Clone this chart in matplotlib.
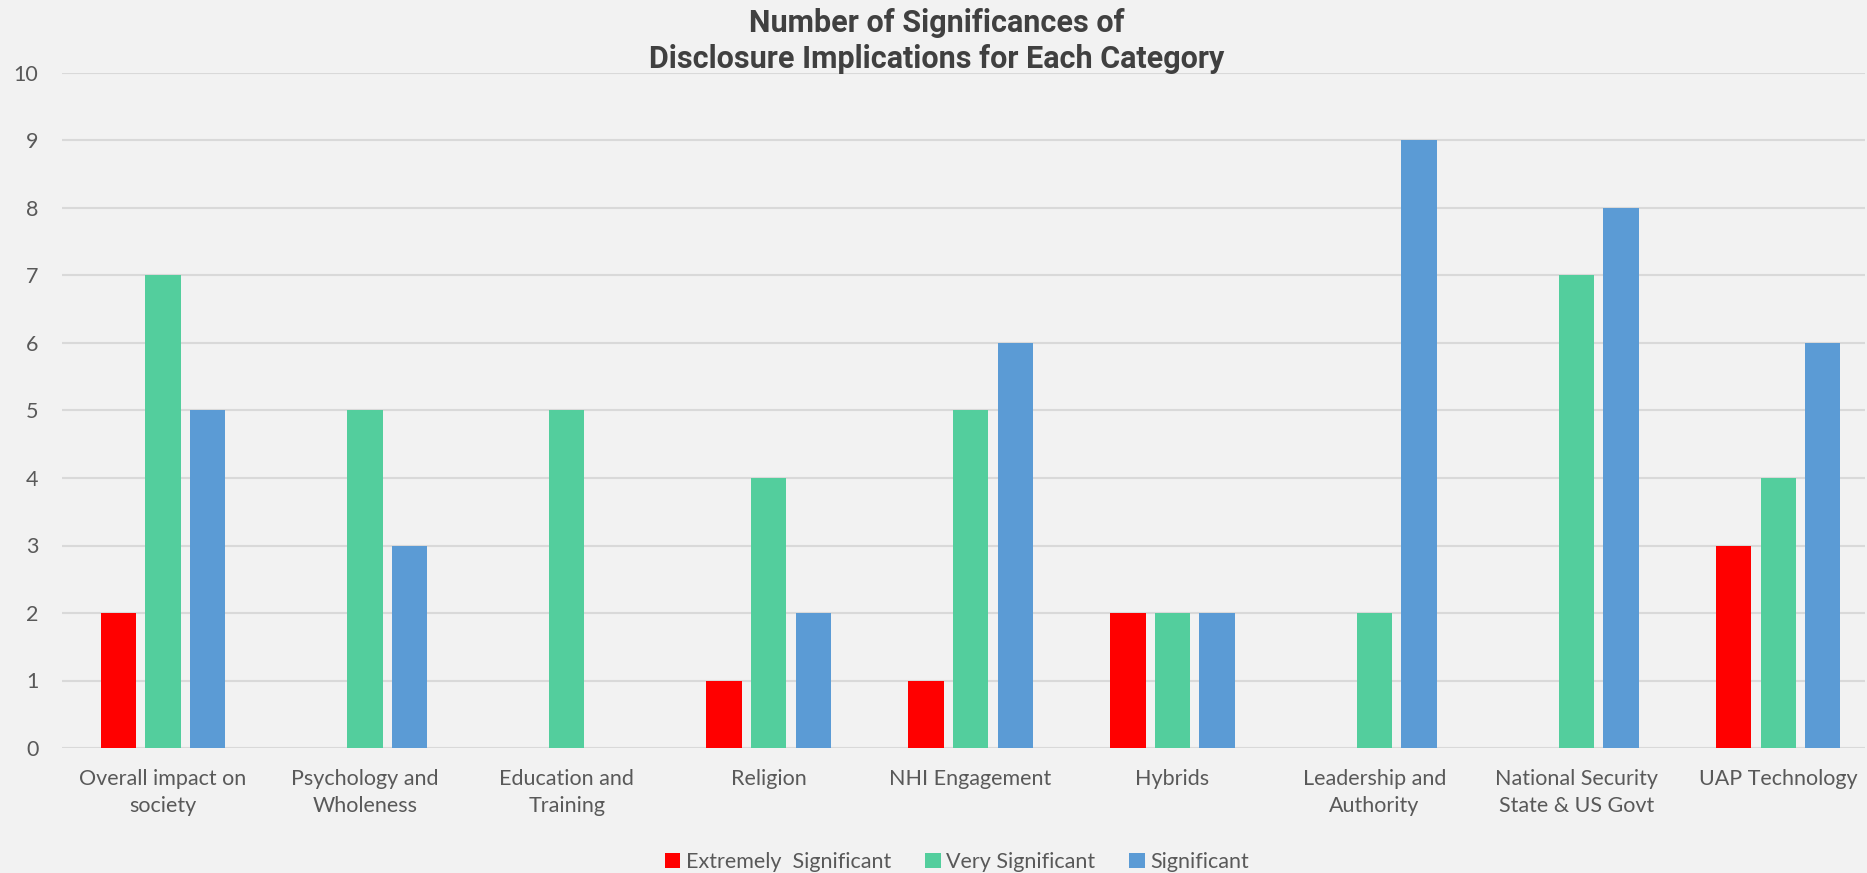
import matplotlib
matplotlib.use("Agg")
import matplotlib.pyplot as plt
import numpy as np

categories = ["Overall impact on\nsociety", "Psychology and\nWholeness", "Education and\nTraining",
              "Religion", "NHI Engagement", "Hybrids", "Leadership and\nAuthority",
              "National Security\nState & US Govt", "UAP Technology"]
extremely = [2, 0, 0, 1, 1, 2, 0, 0, 3]
very = [7, 5, 5, 4, 5, 2, 2, 7, 4]
significant = [5, 3, 0, 2, 6, 2, 9, 8, 6]
series_names = ["Extremely  Significant", "Very Significant", "Significant"]
colors = ["#FF0000", "#53CE9D", "#5B9BD5"]

plt.rcParams['font.family'] = ['Lato', 'DejaVu Sans']
bg = "#F2F2F2"
fig = plt.figure(figsize=(18.67, 8.73), dpi=100, facecolor=bg)
ax = fig.add_axes([62/1867, 1-748/873, (1865-62)/1867, (748-73)/873], facecolor=bg)

x = np.arange(len(categories))
w = 0.175
step = 0.221
for i, (vals, name, c) in enumerate(zip([extremely, very, significant], series_names, colors)):
    ax.bar(x + (i-1)*step, vals, width=w, color=c, label=name, zorder=3)

ax.set_xlim(-0.5, 8.43)
ax.set_ylim(0, 10)
ax.set_yticks(range(0, 11))
ax.grid(axis='y', color='#D9D9D9', linewidth=1.5, zorder=0)
for s in ax.spines.values():
    s.set_visible(False)
ax.tick_params(length=0, colors='#595959', labelsize=15.5)
ax.tick_params(axis='y', pad=17)
ax.tick_params(axis='x', pad=15)
ax.set_xticks(x)
ax.set_xticklabels(categories, linespacing=1.45)

fig.text(937/1867, 1-41/873, "Number of Significances of\nDisclosure Implications for Each Category",
         ha='center', va='center', fontsize=22, fontweight='bold', color='#404040',
         family=['Roboto', 'DejaVu Sans'], linespacing=1.22)

leg = fig.legend(loc='center', bbox_to_anchor=(957/1867, 1-862/873), ncol=3, frameon=False,
                 fontsize=15.5, handlelength=0.7, handleheight=0.7, handletextpad=0.25,
                 columnspacing=1.6, labelcolor='#595959')
fig.savefig("out.png", dpi=100, facecolor=bg)
